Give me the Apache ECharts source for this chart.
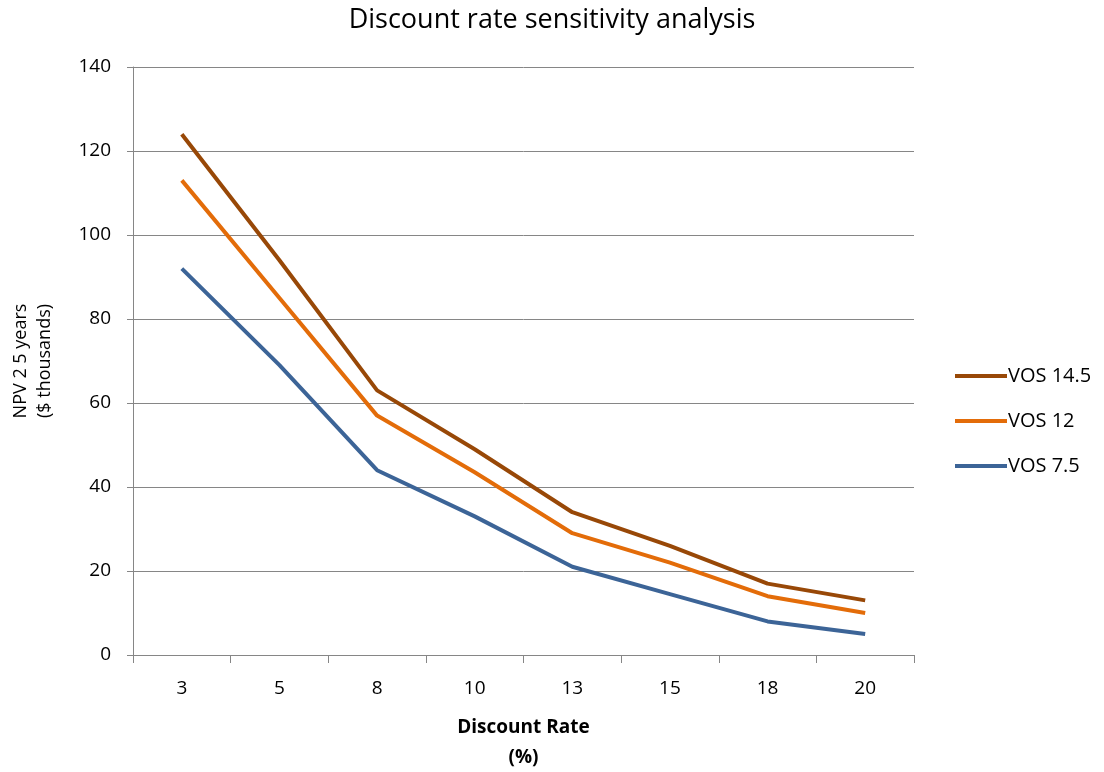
<!DOCTYPE html>
<html>
<head>
<meta charset="utf-8">
<script src="https://cdn.jsdelivr.net/npm/echarts@6/dist/echarts.min.js"></script>
<style>
  html, body { margin: 0; padding: 0; background: #fff; }
  #main { width: 1104px; height: 772px; }
</style>
</head>
<body>
<div id="main"></div>
<script>
// discount rate categories (%)
const rates = ["3", "5", "8", "10", "13", "15", "18", "20"];
// NPV 25 years ($ thousands)
const vos145 = [124, 94, 63, 49, 34, 26, 17, 13];
const vos12 = [113, 85, 57, 43.5, 29, 22, 14, 10];
const vos75 = [92, 69, 44, 33, 21, 14.5, 8, 5];

const font = "Open Sans";
const gray = "#868686";

const chart = echarts.init(document.getElementById("main"));

function line(name, data, color) {
  return {
    name: name,
    type: "line",
    data: data,
    symbol: "none",
    lineStyle: { width: 4, color: color },
    itemStyle: { color: color },
  };
}

chart.setOption({
  backgroundColor: "#fff",
  animation: false,
  title: {
    text: "Discount rate sensitivity analysis",
    left: "center",
    top: 2,
    textStyle: { fontFamily: font, fontSize: 27, fontWeight: "normal", color: "#000" },
  },
  grid: { left: 133, right: 190, top: 67, bottom: 117, outerBoundsMode: "none", containLabel: false },
  legend: {
    orient: "vertical",
    left: 950,
    top: 361,
    itemGap: 25,
    itemWidth: 52,
    itemHeight: 4,
    icon: "rect",
    textStyle: { fontFamily: font, fontSize: 20, color: "#000", padding: [0, 0, 0, -4] },
    data: ["VOS 14.5", "VOS 12", "VOS 7.5"],
  },
  xAxis: {
    type: "category",
    data: rates,
    boundaryGap: true,
    name: "Discount Rate\n(%)",
    nameLocation: "middle",
    nameGap: 58,
    nameTextStyle: { fontFamily: font, fontSize: 19, fontWeight: "bold", color: "#000", lineHeight: 30 },
    axisLine: { lineStyle: { color: gray, width: 1 } },
    axisTick: { show: true, length: 8, interval: 0, lineStyle: { color: gray } },
    axisLabel: { fontFamily: font, fontSize: 19, color: "#000", margin: 24 },
    splitLine: { show: false },
  },
  yAxis: {
    type: "value",
    min: 0,
    max: 140,
    interval: 20,
    name: "NPV 2 5 years\n($ thousands)",
    nameLocation: "middle",
    nameGap: 76,
    nameRotate: 90,
    nameTextStyle: { fontFamily: font, fontSize: 18, color: "#000", lineHeight: 24 },
    axisLine: { show: true, lineStyle: { color: gray, width: 1 } },
    axisTick: { show: true, length: 6, lineStyle: { color: gray } },
    axisLabel: { fontFamily: font, fontSize: 19, color: "#000", margin: 22 },
    splitLine: { show: true, lineStyle: { color: gray, width: 1 } },
  },
  series: [
    line("VOS 14.5", vos145, "#984807"),
    line("VOS 12", vos12, "#E36C09"),
    line("VOS 7.5", vos75, "#3C6497"),
  ],
});
</script>
</body>
</html>
